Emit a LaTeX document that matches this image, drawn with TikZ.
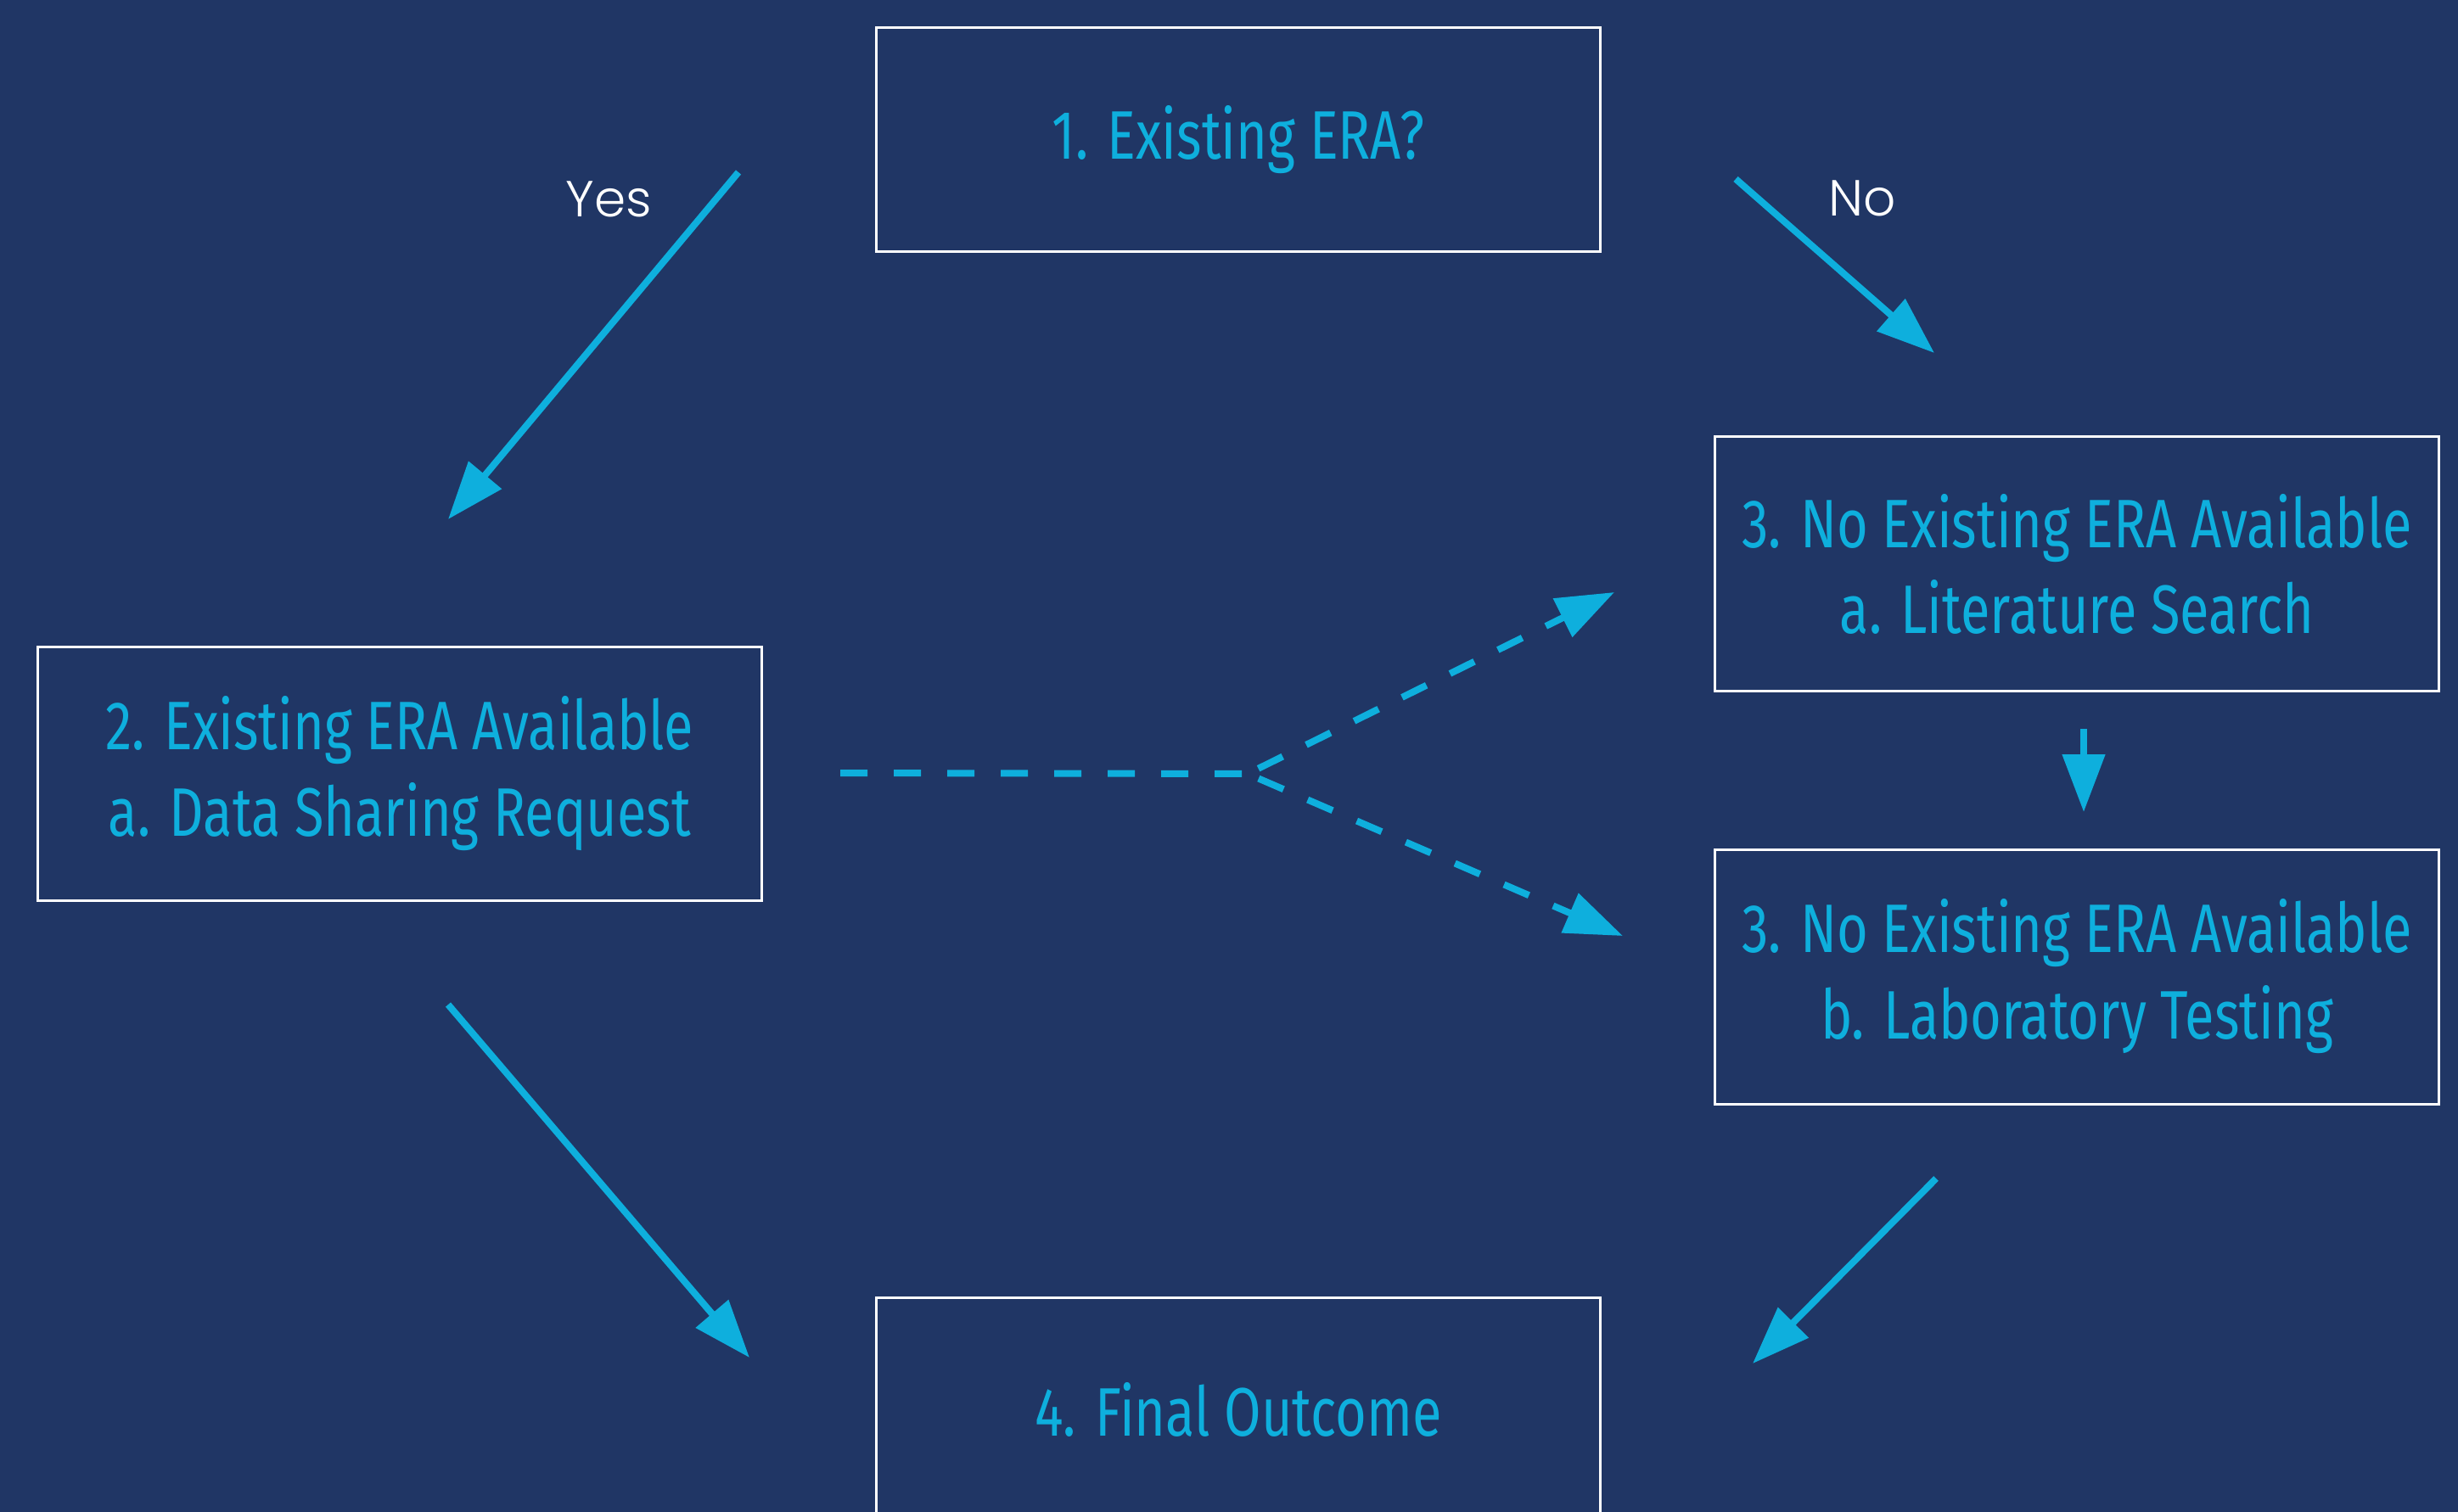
\documentclass[tikz,border=0pt]{standalone}
\usepackage{fontspec}
\setmainfont{Fira Sans}
\newfontfamily\stepfont[FakeStretch=0.78]{Fira Sans}
\newfontfamily\answerfont{Poppins Light}
\usetikzlibrary{arrows.meta}
\definecolor{navy}{HTML}{203665}
\definecolor{sky}{HTML}{0EAFDD}

\begin{document}
\begin{tikzpicture}[x=1cm, y=1cm,
    stepbox/.style={draw=white, line width=0.03cm, minimum width=8.53cm, align=center,
        text=sky, font=\stepfont\fontsize{23}{29}\selectfont},
    flow/.style={draw=sky, line width=0.08cm, -{Triangle[length=0.68cm,width=0.49cm]}},
    maybe/.style={flow, dash pattern=on 0.32cm off 0.31cm},
    answer/.style={text=white, anchor=base, font=\answerfont\fontsize{17}{20}\selectfont}]

        \fill[navy] (0,0) rectangle (28.96,-17.82);
        \useasboundingbox (0,0) rectangle (28.96,-17.82);

        % the five steps
        \node[stepbox, minimum height=2.64cm] (era)at(14.59,-1.65) {1. Existing ERA?};
        \node[stepbox, minimum height=2.99cm] (share)at(4.71,-9.12) {2. Existing ERA Available\\a. Data Sharing Request};
        \node[stepbox, minimum height=3.00cm] (lit)at(24.47,-6.65) {3. No Existing ERA Available\\a. Literature Search};
        \node[stepbox, minimum height=3.00cm] (lab)at(24.47,-11.51) {3. No Existing ERA Available\\b. Laboratory Testing};
        \node[stepbox, minimum height=2.64cm] (final)at(14.59,-16.61) {4. Final Outcome};

        % free arrow ends
        \coordinate (yesA)at(8.70,-2.03);
        \coordinate (yesB)at(5.28,-6.12);
        \coordinate (noA)at(20.45,-2.11);
        \coordinate (noB)at(22.79,-4.16);
        \coordinate (downA)at(24.55,-8.59);
        \coordinate (downB)at(24.55,-9.57);
        \coordinate (shareA)at(5.28,-11.84);
        \coordinate (shareB)at(8.83,-16.00);
        \coordinate (labA)at(22.81,-13.89);
        \coordinate (labB)at(20.65,-16.07);
        \coordinate (dashA)at(9.90,-9.11);
        \coordinate (fork)at(14.70,-9.12);
        \coordinate (dashUp)at(19.02,-6.98);
        \coordinate (dashDown)at(19.12,-11.03);

        \draw[flow] (yesA) -- (yesB);
        \draw[flow] (noA) -- (noB);
        \draw[flow] (downA) -- (downB);
        \draw[flow] (shareA) -- (shareB);
        \draw[flow] (labA) -- (labB);
        \draw[maybe, -] (dashA) -- (fork);
        \draw[maybe, shorten <=0.14cm] (fork) -- (dashUp);
        \draw[maybe, shorten <=0.14cm] (fork) -- (dashDown);

        \node[answer] (yes)at(7.17,-2.56) {Yes};
        \node[answer] (no)at(21.94,-2.55) {No};

\end{tikzpicture}
\end{document}
